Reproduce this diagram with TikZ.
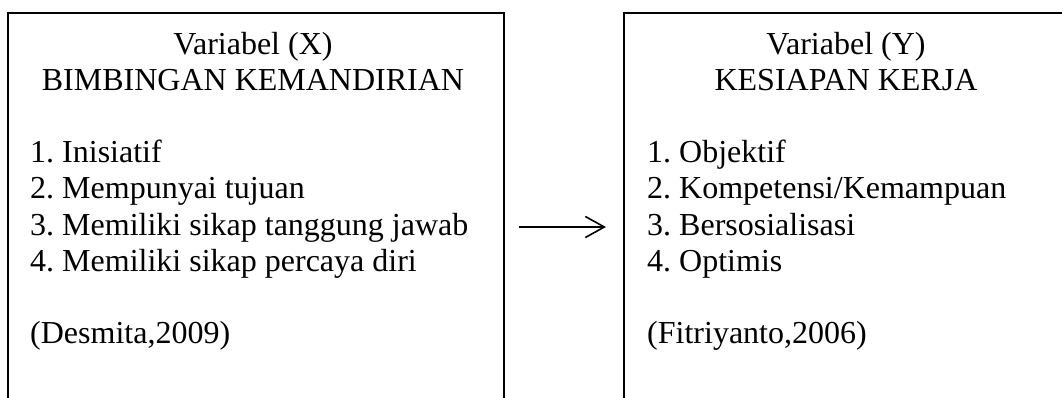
\documentclass[tikz,border=0pt]{standalone}
\usepackage{fontspec}
\setmainfont{Liberation Serif}
\usetikzlibrary{arrows.meta}
\frenchspacing
\begin{document}
\begin{tikzpicture}[x=1pt,y=-1pt,
  frame/.style={draw=black, line width=1.6pt, anchor=north west, inner sep=0pt},
  txt/.style={inner sep=0pt, font=\fontsize{32}{36}\selectfont},
  conn/.style={line width=1.6pt, -{Straight Barb[length=19pt,width=21pt,line width=1.6pt]}}]
\clip (0,0) rectangle (1062,398);
\fill[white] (0,0) rectangle (1062,398);
% boxes
\node[frame, minimum width=496pt, minimum height=420pt] (L) at (7,12) {};
\node[frame, minimum width=446pt, minimum height=420pt] (R) at (623,12) {};
% left texts
\node[txt, anchor=base] (lt1) at (253,55) {Variabel (X)};
\node[txt, anchor=base] (lt2) at (253,91) {BIMBINGAN KEMANDIRIAN};
\node[txt, anchor=base west] (l1) at (30,163) {1. Inisiatif};
\node[txt, anchor=base west] (l2) at (30,199) {2. Mempunyai tujuan};
\node[txt, anchor=base west] (l3) at (30,235) {3. Memiliki sikap tanggung jawab};
\node[txt, anchor=base west] (l4) at (30,271) {4. Memiliki sikap percaya diri};
\node[txt, anchor=base west] (lref) at (30,343) {(Desmita,2009)};
% right texts
\node[txt, anchor=base] (rt1) at (846,55) {Variabel (Y)};
\node[txt, anchor=base] (rt2) at (846,91) {KESIAPAN KERJA};
\node[txt, anchor=base west] (r1) at (647,163) {1. Objektif};
\node[txt, anchor=base west] (r2) at (647,199) {2. Kompetensi/Kemampuan};
\node[txt, anchor=base west] (r3) at (647,235) {3. Bersosialisasi};
\node[txt, anchor=base west] (r4) at (647,271) {4. Optimis};
\node[txt, anchor=base west] (rref) at (647,343) {(Fitriyanto,2006)};
% arrow
\coordinate (ls) at (L.north east |- 0,227);
\coordinate (re) at (R.north west |- 0,227);
\draw[conn, shorten <=14pt, shorten >=17pt] (ls) -- (re);
\end{tikzpicture}
\end{document}
